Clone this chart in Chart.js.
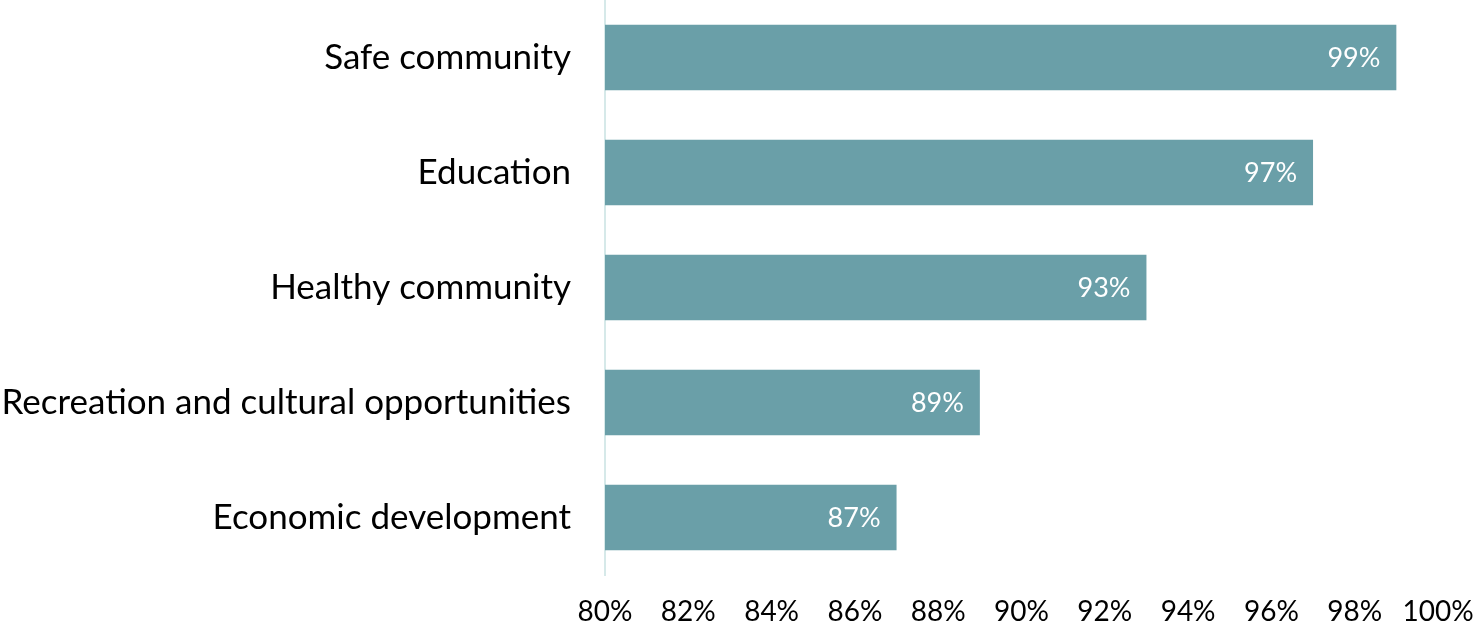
<!DOCTYPE html>
<html>
<head>
<meta charset="utf-8">
<script src="https://cdn.jsdelivr.net/npm/chart.js@4/dist/chart.umd.min.js"></script>
<style>
  html, body { margin: 0; padding: 0; background: #fff; }
  #wrap { width: 1474px; height: 627px; }
</style>
</head>
<body>
<div id="wrap"><canvas id="priorityChart"></canvas></div>
<script>
// categories and values
var categories = ['Safe community', 'Education', 'Healthy community', 'Recreation and cultural opportunities', 'Economic development'];
var values = [99, 97, 93, 89, 87];
var tickLabels = ['80%', '82%', '84%', '86%', '88%', '90%', '92%', '94%', '96%', '98%', '100%'];

var barColor = '#6a9fa8';
var axisColor = '#d6e9e9';
var fontFamily = 'Lato, "Open Sans", sans-serif';

// white value labels inside the end of each bar
var valueLabels = {
    id: 'valueLabels',
    afterDatasetsDraw: function(chart) {
        var ctx = chart.ctx;
        var meta = chart.getDatasetMeta(0);
        ctx.save();
        ctx.fillStyle = '#ffffff';
        ctx.font = '27px ' + fontFamily;
        ctx.textAlign = 'right';
        ctx.textBaseline = 'middle';
        meta.data.forEach(function(bar, i) {
            ctx.fillText(values[i] + '%', bar.x - 16, bar.y + 1);
        });
        ctx.restore();
    }
};

var ctx = document.getElementById('priorityChart').getContext('2d');
new Chart(ctx, {
    type: 'bar',
    data: {
        labels: categories,
        datasets: [{
            data: values,
            backgroundColor: barColor,
            borderWidth: 0,
            barPercentage: 0.57,
            categoryPercentage: 1.0
        }]
    },
    plugins: [valueLabels],
    options: {
        indexAxis: 'y',
        responsive: true,
        maintainAspectRatio: false,
        animation: false,
        layout: { padding: 0 },
        plugins: {
            legend: { display: false },
            tooltip: { enabled: false }
        },
        scales: {
            x: {
                min: 80,
                max: 100,
                grid: { display: false, drawTicks: false },
                border: { display: false },
                afterFit: function(scale) {
                    scale.height = 52;
                    scale.paddingLeft = 0;
                    scale.paddingRight = 36;
                },
                ticks: {
                    stepSize: 2,
                    padding: 20,
                    color: '#000',
                    font: { family: fontFamily, size: 28 },
                    maxRotation: 0,
                    callback: function(value, index) {
                        return tickLabels[index];
                    }
                }
            },
            y: {
                grid: { display: false, drawTicks: false },
                border: { display: true, color: axisColor, width: 2 },
                afterFit: function(scale) {
                    scale.width = 605;
                    scale.paddingTop = 0;
                    scale.paddingBottom = 0;
                },
                ticks: {
                    padding: 34,
                    color: '#000',
                    font: { family: fontFamily, size: 35 }
                }
            }
        }
    }
});
</script>
</body>
</html>
